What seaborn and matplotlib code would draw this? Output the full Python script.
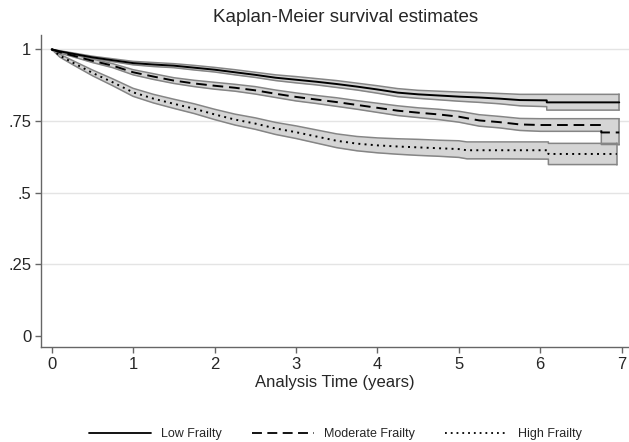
import matplotlib
matplotlib.use("Agg")
import matplotlib.pyplot as plt
import seaborn as sns
import pandas as pd
from matplotlib.lines import Line2D

# ---- data ----
low_t = [0, 0.1, 0.25, 0.5, 0.75, 1, 1.25, 1.5, 1.75, 2, 2.25, 2.5, 2.75, 3, 3.25, 3.5,
         3.75, 4, 4.25, 4.5, 4.75, 5, 5.25, 5.5, 5.75, 6.08, 6.08, 6.97]
low_s = [1.0, .993, .985, .972, .962, .952, .947, .943, .936, .929, .920, .911, .901, .894,
         .887, .879, .870, .860, .849, .843, .839, .835, .832, .828, .823, .822, .815, .815]
low_hi = [1.0, .995, .988, .976, .967, .958, .954, .950, .944, .937, .929, .920, .911, .905,
          .898, .891, .882, .873, .863, .857, .854, .851, .849, .846, .843, .843, .843, .843]
low_lo = [1.0, .991, .982, .968, .957, .946, .940, .936, .928, .921, .911, .902, .891, .883,
          .876, .867, .858, .847, .835, .829, .824, .819, .815, .810, .803, .800, .788, .788]

mod_t = [0, 0.1, 0.25, 0.5, 0.75, 1, 1.25, 1.5, 1.75, 2, 2.25, 2.5, 2.75, 3, 3.25, 3.5,
         3.75, 4, 4.25, 4.5, 4.75, 5, 5.25, 5.5, 5.75, 6, 6.5, 6.75, 6.75, 6.97]
mod_s = [1.0, .990, .979, .960, .943, .920, .905, .891, .881, .873, .866, .857, .845, .834,
         .825, .816, .806, .796, .786, .779, .773, .765, .752, .746, .738, .736, .736, .736,
         .710, .710]
mod_hi = [1.0, .993, .983, .966, .950, .929, .915, .901, .892, .885, .878, .870, .858, .848,
          .839, .831, .821, .812, .803, .796, .791, .784, .772, .766, .759, .758, .758, .758,
          .758, .758]
mod_lo = [1.0, .987, .975, .954, .936, .911, .895, .881, .870, .861, .854, .844, .832, .820,
          .811, .801, .791, .780, .769, .762, .755, .746, .732, .726, .717, .714, .714, .714,
          .668, .668]

high_t = [0, 0.1, 0.25, 0.5, 0.75, 1, 1.25, 1.5, 1.75, 2, 2.25, 2.5, 2.75, 3, 3.25, 3.5,
          3.75, 4, 4.25, 4.5, 4.75, 5, 5.1, 5.5, 6.1, 6.1, 6.94]
high_s = [1.0, .978, .955, .918, .885, .850, .828, .810, .793, .773, .755, .741, .724, .711,
          .696, .681, .671, .665, .661, .658, .655, .652, .648, .648, .648, .635, .635]
high_hi = [1.0, .983, .962, .928, .897, .864, .843, .826, .810, .791, .774, .761, .745, .733,
           .719, .705, .696, .691, .688, .686, .683, .681, .677, .677, .677, .672, .672]
high_lo = [1.0, .973, .948, .908, .873, .836, .813, .794, .776, .755, .736, .721, .703, .689,
           .673, .657, .646, .639, .634, .630, .627, .623, .618, .618, .617, .598, .598]

groups = ["Low Frailty", "Moderate Frailty", "High Frailty"]
x_ticks = [0, 1, 2, 3, 4, 5, 6, 7]
y_ticks = [0, 0.25, 0.5, 0.75, 1]
y_tick_labels = ["0", ".25", ".5", ".75", "1"]

series = {
    "Low Frailty": (low_t, low_s, low_lo, low_hi),
    "Moderate Frailty": (mod_t, mod_s, mod_lo, mod_hi),
    "High Frailty": (high_t, high_s, high_lo, high_hi),
}
styles = {
    "Low Frailty": dict(linestyle="-"),
    "Moderate Frailty": dict(linestyle=(0, (5.5, 3))),
    "High Frailty": dict(linestyle=(0, (1, 2.2))),
}

sns.set_theme(style="white")
plt.rcParams["font.family"] = ["Liberation Sans", "DejaVu Sans"]

fig = plt.figure(figsize=(6.29, 4.42), dpi=100)
ax = fig.add_axes([41 / 629, 1 - 347 / 442, 1 - 41 / 629, (347 - 35) / 442])

band_fill = "#d5d5d5"
band_edge = "#858585"

# bands
for g in groups:
    t, s, lo, hi = series[g]
    ax.fill_between(t, lo, hi, color=band_fill, linewidth=0, zorder=2)
for g in groups:
    t, s, lo, hi = series[g]
    ax.plot(t, lo, color=band_edge, lw=1.1, zorder=3)
    ax.plot(t, hi, color=band_edge, lw=1.1, zorder=3)
    ax.plot([t[-1], t[-1]], [lo[-1], hi[-1]], color=band_edge, lw=1.1, zorder=3)

# survival lines
for g in groups:
    t, s, lo, hi = series[g]
    df = pd.DataFrame({"t": t, "s": s})
    sns.lineplot(data=df, x="t", y="s", estimator=None, sort=False, ax=ax,
                 color="black", lw=1.4, zorder=5, **styles[g])

ax.set_xlim(-0.131, 7.09)
ax.set_ylim(-0.0384, 1.050)
ax.set_xticks(x_ticks)
ax.set_xticklabels([str(v) for v in x_ticks], fontsize=12)
ax.set_yticks(y_ticks)
ax.set_yticklabels(y_tick_labels, fontsize=12)
for yv in y_ticks[1:]:
    ax.axhline(yv, color="#e4e4e4", lw=1.0, zorder=1)

for side in ["top", "right"]:
    ax.spines[side].set_visible(False)
for side in ["left", "bottom"]:
    ax.spines[side].set_color("#666666")
    ax.spines[side].set_linewidth(1.0)
ax.tick_params(axis="both", which="both", direction="out", length=4, width=1,
               color="#666666", pad=3, left=True, bottom=True)
ax.set_xlabel("Analysis Time (years)", fontsize=12, labelpad=2)
ax.set_ylabel("")

fig.text(346 / 629, 1 - 17 / 442, "Kaplan-Meier survival estimates", ha="center",
         va="center", fontsize=13.5)

handles = [Line2D([0], [0], color="black", lw=1.3, **styles[g]) for g in groups]
fig.legend(handles, groups, loc="center", bbox_to_anchor=(335 / 629, 1 - 434 / 442),
           ncol=3, frameon=False, fontsize=9, handlelength=5, columnspacing=2.4,
           handletextpad=0.8)

fig.savefig("out.png", dpi=100)
